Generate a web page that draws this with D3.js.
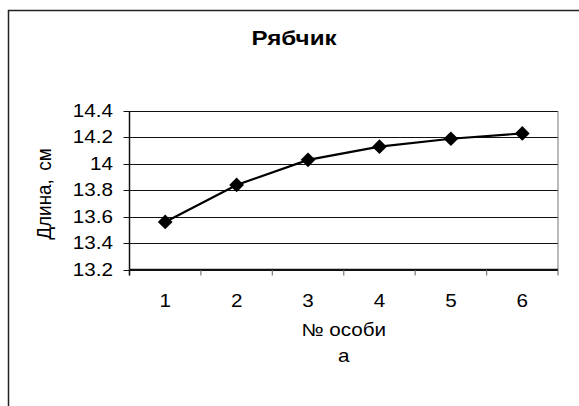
<!DOCTYPE html>
<html>
<head>
<meta charset="utf-8">
<script src="https://cdn.jsdelivr.net/npm/d3@7"></script>
<style>
  body { margin: 0; background: #fff; }
  svg { display: block; font-family: "Liberation Sans", Arial, sans-serif; }
</style>
</head>
<body>
<div id="chart"></div>
<script>
// data
const categories = ["1", "2", "3", "4", "5", "6"];
const lengths = [13.56, 13.84, 14.03, 14.13, 14.19, 14.23];
const yTicks = [13.2, 13.4, 13.6, 13.8, 14.0, 14.2, 14.4];
const title = "Рябчик";
const yTitle = "Длина, см";
const xTitle = ["№ особи", "а"];

const width = 579, height = 406;
const plot = { left: 129.5, right: 558, top: 111, bottom: 269.5 };
const stretch = 1.18; // the original text is drawn a bit wider than tall

const svg = d3.select("#chart").append("svg")
  .attr("width", width)
  .attr("height", height);

// chart frame (right and bottom edges run off the picture)
svg.append("rect")
  .attr("x", 8.5).attr("y", 10.5)
  .attr("width", 580).attr("height", 410)
  .attr("fill", "#fff")
  .attr("stroke", "#222")
  .attr("stroke-width", 1.5);

const x = d3.scaleBand().domain(categories).range([plot.left, plot.right]);
const y = d3.scaleLinear().domain([13.2, 14.4]).range([plot.bottom, plot.top]);

// gridlines
svg.append("g")
  .selectAll("line")
  .data(yTicks)
  .join("line")
  .attr("x1", plot.left - 6).attr("x2", plot.right)
  .attr("y1", d => Math.round(y(d)) + 0.5).attr("y2", d => Math.round(y(d)) + 0.5)
  .attr("stroke", "#111")
  .attr("stroke-width", 1.2);

// right border of the plot area
svg.append("line")
  .attr("x1", plot.right).attr("x2", plot.right)
  .attr("y1", plot.top).attr("y2", plot.bottom)
  .attr("stroke", "#777");

// x axis with ticks on band edges
const xEdges = categories.map(c => x(c)).concat([plot.right]);
svg.append("g")
  .selectAll("line")
  .data(xEdges)
  .join("line")
  .attr("x1", d => d).attr("x2", d => d)
  .attr("y1", plot.bottom).attr("y2", plot.bottom + 6)
  .attr("stroke", "#777")
  .attr("stroke-width", 1.2);

svg.append("line")
  .attr("x1", plot.left).attr("x2", plot.right)
  .attr("y1", plot.bottom).attr("y2", plot.bottom)
  .attr("stroke", "#111").attr("stroke-width", 1.5);

svg.append("line")
  .attr("x1", plot.left).attr("x2", plot.left)
  .attr("y1", plot.top).attr("y2", plot.bottom + 6)
  .attr("stroke", "#111").attr("stroke-width", 1.5);

// y tick labels
svg.append("g")
  .selectAll("text")
  .data(yTicks)
  .join("text")
  .attr("transform", d => `translate(113,${y(d) + 6}) scale(${stretch},1)`)
  .attr("text-anchor", "end")
  .attr("font-size", 17.5)
  .text(d => d3.format("")(+d.toFixed(1)));

// x tick labels
svg.append("g")
  .selectAll("text")
  .data(categories)
  .join("text")
  .attr("transform", d => `translate(${x(d) + x.bandwidth() / 2},306.5) scale(${stretch},1)`)
  .attr("text-anchor", "middle")
  .attr("font-size", 17.5)
  .text(d => d);

// line + markers
const line = d3.line()
  .x((d, i) => x(categories[i]) + x.bandwidth() / 2)
  .y(d => y(d));

svg.append("path")
  .datum(lengths)
  .attr("d", line)
  .attr("fill", "none")
  .attr("stroke", "#000")
  .attr("stroke-width", 2.2);

const diamond = d3.symbol().type(d3.symbolSquare).size(108);
svg.append("g")
  .selectAll("path")
  .data(lengths)
  .join("path")
  .attr("d", diamond)
  .attr("transform", (d, i) => `translate(${x(categories[i]) + x.bandwidth() / 2},${y(d)}) rotate(45)`)
  .attr("fill", "#000");

// titles
svg.append("text")
  .attr("transform", `translate(294,45) scale(${stretch},1)`)
  .attr("text-anchor", "middle")
  .attr("font-size", 20.5)
  .attr("font-weight", "bold")
  .text(title);

svg.append("text")
  .attr("transform", `translate(51,194) rotate(-90) scale(1.08,${stretch})`)
  .attr("text-anchor", "middle")
  .attr("font-size", 17.5)
  .attr("word-spacing", 3)
  .text(yTitle);

const xMid = (plot.left + plot.right) / 2;
svg.append("g")
  .selectAll("text")
  .data(xTitle)
  .join("text")
  .attr("transform", (d, i) => `translate(${xMid},${i === 0 ? 336 : 361.5}) scale(${stretch},1)`)
  .attr("text-anchor", "middle")
  .attr("font-size", 17.5)
  .text(d => d);
</script>
</body>
</html>
